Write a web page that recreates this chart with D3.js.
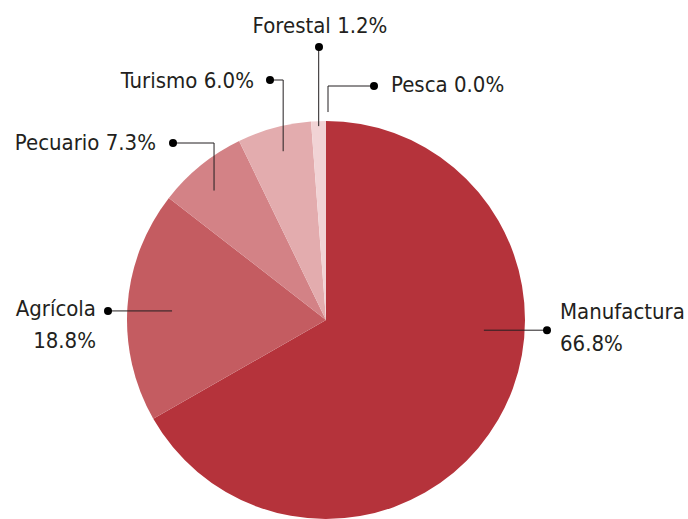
<!DOCTYPE html>
<html>
<head>
<meta charset="utf-8">
<script src="https://cdn.jsdelivr.net/npm/d3@7"></script>
<style>
  body { margin: 0; background: #fff; }
  text { font-family: "DejaVu Sans Condensed", "DejaVu Sans", sans-serif; font-stretch: condensed; font-size: 22px; fill: #231f20; }
</style>
</head>
<body>
<script>
"use strict";

///////////////////
// data
///////////////////

var sectors = ["Manufactura", "Agrícola", "Pecuario", "Turismo", "Forestal", "Pesca"];
var shares = [66.8, 18.8, 7.3, 6.0, 1.2, 0.0];
var labelLines = [
    ["Manufactura", "66.8%"],
    ["Agrícola", "18.8%"],
    ["Pecuario 7.3%"],
    ["Turismo 6.0%"],
    ["Forestal 1.2%"],
    ["Pesca 0.0%"]
];
var colors = ["#b5333b", "#c45c61", "#d38286", "#e3acae", "#f1d3d5", "#f8e8e9"];

// leader layout: t = where along the slice, rk = radius fraction,
// dot = offset of the dot from the centre (dy null -> same height as anchor)
var leaders = [
    { t: 0.39, rk: 0.795, dx: 221, dy: null, anchor: "start", tx: 13, ty: -11 },
    { t: 0.49, rk: 0.775, dx: -218, dy: null, anchor: "end", tx: -12, ty: 5 },
    { t: 0.43, rk: 0.86, dx: -153, dy: -177, anchor: "end", tx: -17, ty: 7 },
    { t: 0.54, rk: 0.875, dx: -56, dy: -240, anchor: "end", tx: -16, ty: 8 },
    { t: 0.5, rk: 0.975, dx: -7, dy: -273, anchor: "middle", tx: 1, ty: -14 },
    { t: 0.5, rk: 1.045, dx: 48, dy: -234, anchor: "start", tx: 17, ty: 6 }
];

///////////////////
// chart
///////////////////

(function() {
    var width = 688, height = 519;
    var cx = 326, cy = 320, r = 199;
    var lineGap = 32;

    var svg = d3.select("body").append("svg")
        .attr("width", width)
        .attr("height", height);

    var rows = sectors.map(function(s, i) {
        return { name: s, value: shares[i], color: colors[i], lines: labelLines[i], lay: leaders[i] };
    });

    var pie = d3.pie().sort(null).value(function(d) { return d.value; });
    var arc = d3.arc().innerRadius(0).outerRadius(r);
    var arcs = pie(rows);

    var g = svg.append("g").attr("transform", "translate(" + cx + "," + cy + ")");

    g.selectAll("path.slice")
        .data(arcs)
        .enter()
        .append("path")
        .attr("class", "slice")
        .attr("d", arc)
        .attr("fill", function(d) { return d.data.color; });

    // leader lines + labels
    var lab = g.selectAll("g.label")
        .data(arcs)
        .enter()
        .append("g")
        .attr("class", "label");

    arcs.forEach(function(d) {
        var lay = d.data.lay;
        var a = d.startAngle + lay.t * (d.endAngle - d.startAngle);
        var ax = Math.sin(a) * r * lay.rk;
        var ay = -Math.cos(a) * r * lay.rk;
        if (d.value === 0) ax += 2;
        d.anchorPt = [ax, ay];
        d.dotPt = [lay.dx, lay.dy === null ? ay : lay.dy];
    });

    lab.append("path")
        .attr("d", function(d) {
            var p = d3.path();
            p.moveTo(d.anchorPt[0], d.anchorPt[1]);
            p.lineTo(d.anchorPt[0], d.dotPt[1]);
            p.lineTo(d.dotPt[0], d.dotPt[1]);
            return p.toString();
        })
        .attr("fill", "none")
        .attr("stroke", "#231f20")
        .attr("stroke-width", 1);

    lab.append("circle")
        .attr("cx", function(d) { return d.dotPt[0]; })
        .attr("cy", function(d) { return d.dotPt[1]; })
        .attr("r", 4)
        .attr("fill", "#000");

    lab.append("text")
        .attr("text-anchor", function(d) { return d.data.lay.anchor; })
        .attr("x", function(d) { return d.dotPt[0] + d.data.lay.tx; })
        .attr("y", function(d) { return d.dotPt[1] + d.data.lay.ty; })
        .each(function(d) {
            var t = d3.select(this);
            d.data.lines.forEach(function(line, i) {
                t.append("tspan")
                    .attr("x", d.dotPt[0] + d.data.lay.tx)
                    .attr("dy", i === 0 ? 0 : lineGap)
                    .text(line);
            });
        });
})();
</script>
</body>
</html>
